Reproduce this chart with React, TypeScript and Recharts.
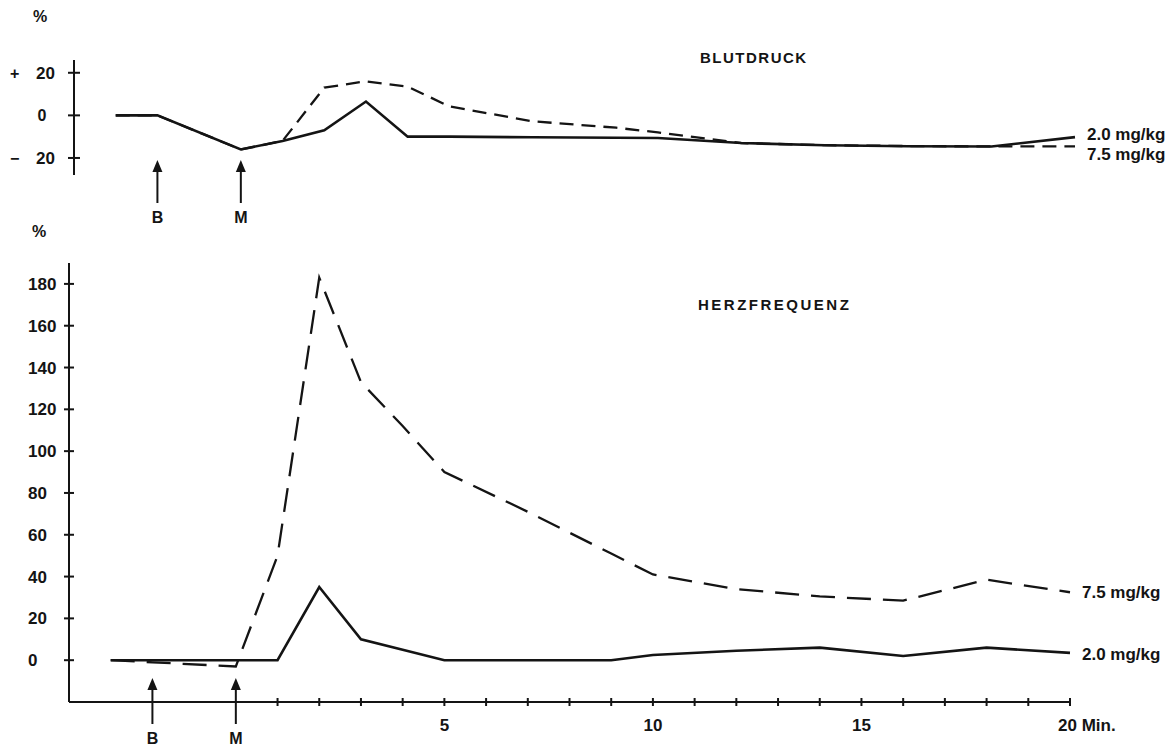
import React from 'react';
import { LineChart, Line, XAxis, YAxis, ReferenceLine } from 'recharts';

// minutes, M (injection) at 0
const TIMES = [-3, -2, 0, 1, 2, 3, 4, 5, 7, 9, 10, 12, 14, 16, 18, 20];

// Blutdruck, % change
const BP_LOW = [0, 0, -16, -12, -7, 6.5, -10, -10, -10.3, -10.5, -10.6, -13, -14, -14.5, -14.6, -10.2];
const BP_HIGH = [0, 0, -16, -12, 13, 16, 13.5, 4.2, -2.8, -5.8, -8, -13, -14, -14.4, -14.6, -14.6];

// Herzfrequenz, % change
const HR_LOW = [0, 0, 0, 0, 35, 10, 5, 0, 0, 0, 2.5, 4.5, 6, 2, 6, 3.5];
const HR_HIGH = [0, -1, -3, 50, 183, 133, 112, 90, 71, 51, 41, 34, 30.5, 28.5, 38.5, 32.5];

const BP_TICKS = [-20, 0, 20];
const HR_TICKS = [0, 20, 40, 60, 80, 100, 120, 140, 160, 180];
const MINUTE_TICKS = [1, 2, 3, 4, 5, 6, 7, 8, 9, 10, 11, 12, 13, 14, 15, 16, 17, 18, 19, 20];
const MINUTE_LABELS = [5, 10, 15, 20];

const MARKER_TIMES = [-2, 0];
const MARKER_NAMES = ['B', 'M'];

const DOSE_LOW = '2.0 mg/kg';
const DOSE_HIGH = '7.5 mg/kg';

const INK = '#141414';
const FONT = '"Liberation Sans", Arial, sans-serif';

const bpRows = TIMES.map((t, i) => ({ t, low: BP_LOW[i], high: BP_HIGH[i] }));
const hrRows = TIMES.map((t, i) => ({ t, low: HR_LOW[i], high: HR_HIGH[i] }));

const BpTick = (props: any) => {
  const { x, y, payload } = props;
  const v = payload.value;
  const txt = { fontSize: 16, fontWeight: 'bold', fontFamily: FONT, fill: INK } as any;
  return (
    <g>
      <line x1={x - 6} x2={x + 6} y1={y} y2={y} stroke={INK} strokeWidth={2} />
      {v === 0 ? (
        <text x={x - 32} y={y + 6} textAnchor="middle" {...txt}>0</text>
      ) : (
        <>
          <text x={x - 64} y={y + 6} textAnchor="start" {...txt}>{v > 0 ? '+' : '\u2212'}</text>
          <text x={x - 19} y={y + 6} textAnchor="end" {...txt} fontSize={17}>{Math.abs(v)}</text>
        </>
      )}
    </g>
  );
};

const HrTick = (props: any) => {
  const { x, y, payload } = props;
  return (
    <g>
      <line x1={x - 5} x2={x + 5} y1={y} y2={y} stroke={INK} strokeWidth={2} />
      <text x={x - 41} y={y + 6} textAnchor="start" fontSize={17} fontWeight="bold" fontFamily={FONT} fill={INK}>
        {payload.value}
      </text>
    </g>
  );
};

const MinuteTick = (props: any) => {
  const { x, y, payload } = props;
  const v = payload.value;
  const show = MINUTE_LABELS.includes(v);
  const last = v === MINUTE_LABELS[MINUTE_LABELS.length - 1];
  return (
    <g>
      <line x1={x} x2={x} y1={y - 4} y2={y + 4} stroke={INK} strokeWidth={2} />
      {show && (
        <text x={last ? x - 12 : x} y={y + 29} textAnchor={last ? 'start' : 'middle'} fontSize={17} fontWeight="bold" fontFamily={FONT} fill={INK}>
          {last ? `${v} Min.` : v}
        </text>
      )}
    </g>
  );
};

// B / M arrows under each panel
const arrowShape = (name: string, tip: number, tail: number, labelY: number) => (p: any) => {
  const x = p.x1;
  const base = Math.max(p.y1, p.y2);
  return (
    <g>
      <line x1={x} x2={x} y1={base + tip + 8} y2={base + tail} stroke={INK} strokeWidth={2} />
      <polygon points={`${x},${base + tip} ${x - 5},${base + tip + 12} ${x + 5},${base + tip + 12}`} fill={INK} />
      <text x={x} y={base + labelY + 6} textAnchor="middle" fontSize={16} fontWeight="bold" fontFamily={FONT} fill={INK}>
        {name}
      </text>
    </g>
  );
};

const endLabel = (text: string, dy: number, n: number) => (p: any) => {
  if (p.index !== n - 1) return <g />;
  return (
    <text x={p.x + 12} y={p.y + dy + 6} fontSize={17} fontWeight="bold" fontFamily={FONT} fill={INK}>
      {text}
    </text>
  );
};

const Title = ({ left, top, children, spacing = 2, size = 14 }: any) => (
  <div
    style={{
      position: 'absolute', left, top, fontFamily: FONT, fontWeight: 'bold', fontSize: size,
      lineHeight: `${size}px`, letterSpacing: spacing, color: INK, whiteSpace: 'nowrap',
    }}
  >
    {children}
  </div>
);

const App = () => {
  return (
    <div style={{ position: 'absolute', left: 0, top: 0, width: 1175, height: 749, background: '#fff', overflow: 'hidden' }}>
      <div style={{ position: 'absolute', left: 0, top: 0 }}>
        <LineChart width={1175} height={749} data={bpRows} margin={{ top: 60, right: 100, bottom: 574, left: 14 }}>
          <XAxis dataKey="t" type="number" domain={[-4, 20]} hide />
          <YAxis
            type="number"
            domain={[-28, 26]}
            ticks={BP_TICKS}
            interval={0}
            width={60}
            tickSize={0}
            tickMargin={0}
            tickLine={false}
            axisLine={{ stroke: INK, strokeWidth: 2 }}
            tick={(p: any) => <BpTick {...p} />}
          />
          {MARKER_TIMES.map((t, i) => (
            <ReferenceLine key={t} x={t} ifOverflow="visible" shape={arrowShape(MARKER_NAMES[i], -15, 28, 42)} />
          ))}
          <Line
            dataKey="low"
            type="linear"
            stroke={INK}
            strokeWidth={2.6}
            dot={false}
            isAnimationActive={false}
            label={endLabel(DOSE_LOW, -3, bpRows.length)}
          />
          <Line
            dataKey="high"
            type="linear"
            stroke={INK}
            strokeWidth={2.3}
            strokeDasharray="14 8"
            dot={false}
            isAnimationActive={false}
            label={endLabel(DOSE_HIGH, 8, bpRows.length)}
          />
        </LineChart>
      </div>

      <div style={{ position: 'absolute', left: 0, top: 0 }}>
        <LineChart width={1175} height={749} data={hrRows} margin={{ top: 263, right: 105, bottom: 17, left: 9 }}>
          <XAxis
            dataKey="t"
            type="number"
            domain={[-4, 20]}
            ticks={MINUTE_TICKS}
            interval={0}
            height={30}
            tickSize={0}
            tickMargin={0}
            tickLine={false}
            axisLine={{ stroke: INK, strokeWidth: 2 }}
            tick={(p: any) => <MinuteTick {...p} />}
          />
          <YAxis
            type="number"
            domain={[-20, 190]}
            ticks={HR_TICKS}
            interval={0}
            width={60}
            tickSize={0}
            tickMargin={0}
            tickLine={false}
            axisLine={{ stroke: INK, strokeWidth: 2 }}
            tick={(p: any) => <HrTick {...p} />}
          />
          {MARKER_TIMES.map((t, i) => (
            <ReferenceLine key={t} x={t} ifOverflow="visible" shape={arrowShape(MARKER_NAMES[i], -24, 22, 36)} />
          ))}
          <Line
            dataKey="low"
            type="linear"
            stroke={INK}
            strokeWidth={2.6}
            dot={false}
            isAnimationActive={false}
            label={endLabel(DOSE_LOW, 1, hrRows.length)}
          />
          <Line
            dataKey="high"
            type="linear"
            stroke={INK}
            strokeWidth={2.3}
            strokeDasharray="24 12"
            dot={false}
            isAnimationActive={false}
            label={endLabel(DOSE_HIGH, 0, hrRows.length)}
          />
        </LineChart>
      </div>

      <Title left={33} top={9} spacing={0} size={16}>%</Title>
      <Title left={32} top={224} spacing={0} size={16}>%</Title>
      <Title left={700} top={50} spacing={1.5} size={15}>BLUTDRUCK</Title>
      <Title left={698} top={297} spacing={2.5} size={15}>HERZFREQUENZ</Title>
    </div>
  );
};

export default App;
